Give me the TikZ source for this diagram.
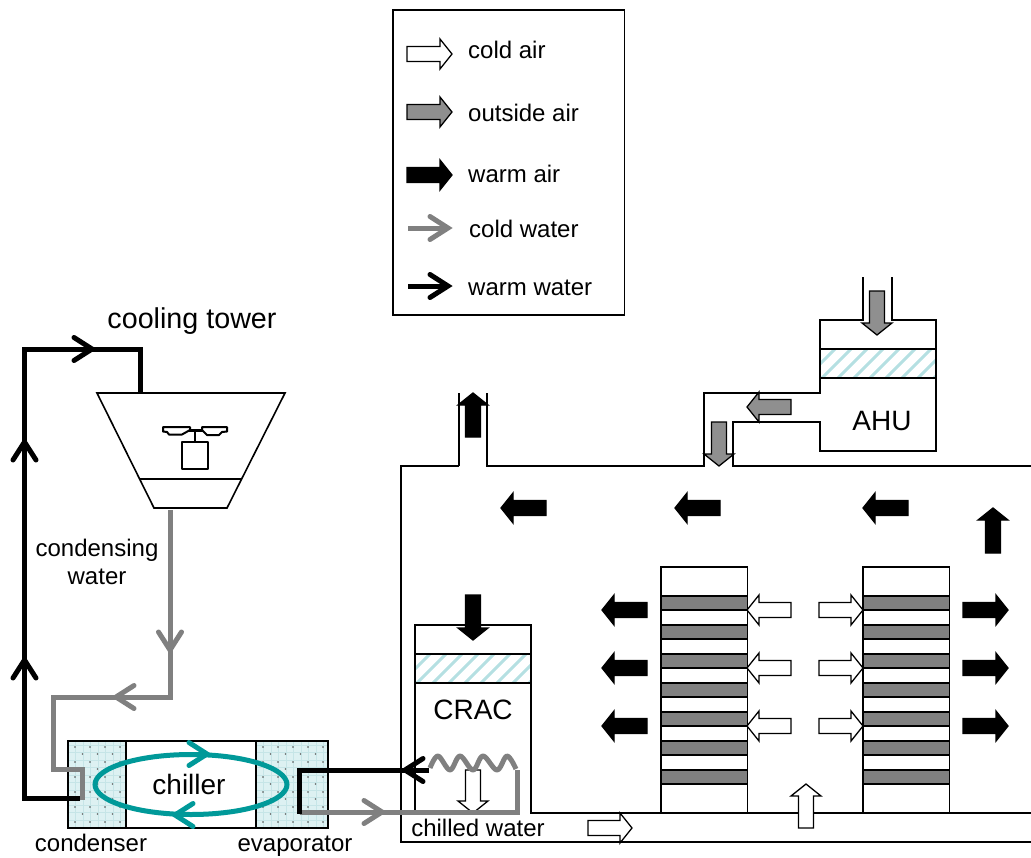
\documentclass[tikz,border=0pt]{standalone}
\usepackage{fontspec}
\setmainfont{Liberation Sans}
\definecolor{pipegray}{HTML}{808080}
\definecolor{outfill}{HTML}{8F8F8F}
\definecolor{tealring}{HTML}{009999}
\definecolor{coilfill}{HTML}{DDF1F2}
\definecolor{coilgrid}{HTML}{C6E5E7}
\definecolor{hatchc}{HTML}{B5E0E2}
\tikzset{
  x=1pt,y=-1pt,
  wall/.style={draw=black,line width=1.6pt,line join=miter},
  box/.style={draw=black,line width=1.7pt},
  coldarr/.style={draw=black,fill=white,line width=1.3pt,line join=miter},
  outarr/.style={draw=black,fill=outfill,line width=1.3pt,line join=miter},
  warmarr/.style={draw=black,fill=black,line width=1.3pt,line join=miter},
  pipeblack/.style={draw=black,line width=5pt,line join=miter,line cap=butt},
  pipegrey/.style={draw=pipegray,line width=5pt,line join=miter,line cap=butt},
  ring/.style={draw=tealring,line width=5pt},
  lab/.style={inner sep=0pt,font=\fontsize{24}{26}\selectfont},
  biglab/.style={inner sep=0pt,font=\fontsize{28}{30}\selectfont},
  fanline/.style={draw=black,line width=2pt,line join=round},
}
% #1 style, #2 tail x, #3 tail y, #4 angle, #5 length
\newcommand\blockarrow[5]{\draw[#1,shift={(#2,#3)},rotate=#4] (0,-7.5)--({#5-12},-7.5)--({#5-12},-15)--(#5,0)--({#5-12},15)--({#5-12},7.5)--(0,7.5)--cycle;}
% #1 colour, #2 tip x, #3 tip y, #4 angle
\newcommand\chev[4]{\draw[draw=#1,line width=5pt,line cap=round,line join=miter,miter limit=4,shift={(#2,#3)},rotate=#4] (-20,-11.5)--(-2,0)--(-20,11.5);}
\newcommand\rackbars[1]{%
  \foreach \yy in {596,625,654,683,712,741,770}{\draw[box,fill=pipegray] (#1,\yy) rectangle ({#1+86.5},\yy+14);}
}
\newcommand\filterband[4]{%
  \begin{scope}
    \clip (#1,#2) rectangle (#3,#4);
    \foreach \xx in {-30,-14,...,150}{\draw[draw=hatchc,line width=3pt] ({#1+\xx},#4)--({#1+\xx+29},#2);}
  \end{scope}
  \draw[box] (#1,#2) rectangle (#3,#4);
}
\newcommand\coil[2]{%
  \fill[coilfill] (#1,741) rectangle (#2,828);
  \begin{scope}
    \clip (#1,741) rectangle (#2,828);
    \foreach \xx in {0,7.5,...,75}{\draw[coilgrid,line width=.35pt] ({#1+\xx},741)--({#1+\xx},828);}
    \foreach \yy in {745,752.5,...,830}{\draw[coilgrid,line width=.35pt] (#1,\yy)--(#2,\yy);}
    \foreach \xx in {7,22,37,52,67}{\foreach \yy in {747,762,777,792,807,822}{\fill[black!70] ({#1+\xx},\yy) circle (.9pt);}}
    \foreach \xx in {14.5,29.5,44.5,59.5}{\foreach \yy in {754,769,784,799,814}{\fill[black!60] ({#1+\xx},\yy) circle (.9pt);}}
  \end{scope}
}
\begin{document}
\begin{tikzpicture}
\useasboundingbox (0,0) rectangle (1031,857);
% legend
\draw[box] (393,10) rectangle (624.5,315);
\blockarrow{coldarr}{407}{54}{0}{45}
\blockarrow{outarr}{407}{112}{0}{45}
\blockarrow{warmarr}{407}{175}{0}{45}
\draw[pipegrey] (408,228)--(447,228);
\chev{pipegray}{450}{228}{0}
\draw[pipeblack] (408,286)--(447,286);
\chev{black}{450}{286}{0}
\node[lab,anchor=west] (lgA) at (468,50) {cold air};
\node[lab,anchor=west] (lgB) at (468,113) {outside air};
\node[lab,anchor=west] (lgC) at (468,174) {warm air};
\node[lab,anchor=west] (lgD) at (469,229) {cold water};
\node[lab,anchor=west] (lgE) at (468,288) {warm water};
% tower
\node[biglab,font=\fontsize{28.7}{30}\selectfont] (towerlab) at (192,321) {cooling tower};
\draw[wall] (97,393)--(285,393)--(227,508)--(154,508)--cycle;
\draw[wall] (140,479)--(242,479);
\draw[fanline] (182,442) rectangle (208,469);
\draw[fanline] (195,430)--(195,442);
\draw[fanline,line width=3pt] (189,430)--(203,430);
\draw[fanline] (163,427)--(190,427)--(190,430)--(182,434.5)--(169,434.5)--(167,432)--(163,431.5)--cycle;
\draw[fanline] (202,427)--(227,427)--(227,431.5)--(222,432)--(219,435)--(207,435)--(202,430)--cycle;
% chiller
\coil{68}{126}
\coil{256}{328}
\draw[box] (68,741) rectangle (328,828);
\draw[box] (126,741)--(126,828);
\draw[box] (256,741)--(256,828);
% room
\draw[wall] (459,466)--(401,466)--(401,842)--(1031,842);
\draw[wall] (459,393)--(459,466);
\draw[wall] (487,393)--(487,466)--(704,466)--(704,393)--(820,393)--(820,320)--(863,320)--(863,277);
\draw[wall] (892,277)--(892,320)--(936,320)--(936,451)--(820,451)--(820,422)--(733,422)--(733,466)--(1031,466);
\filterband{820}{349}{936}{378}
% CRAC
\draw[wall] (415,812)--(415,625)--(531,625)--(531,813)--(1031,813);
\filterband{415}{654}{531}{683}
\node[biglab] (crac) at (473,710) {CRAC};
\node[biglab] (ahu) at (882,421) {AHU};
\node[lab] (chw) at (478,828) {chilled water};
% racks
\draw[wall] (661,567) rectangle (747.5,813);
\draw[wall] (863,567) rectangle (949.5,813);
\rackbars{661}
\rackbars{863}
\draw[draw=black,line width=2.2pt] (747,813)--(762,813);
\draw[draw=black,line width=2.2pt] (950,813)--(965,813);
% air arrows
\blockarrow{warmarr}{473}{437}{90}{44}
\blockarrow{outarr}{877}{291}{270}{44}
\blockarrow{outarr}{791}{407}{180}{44}
\blockarrow{outarr}{719}{422}{270}{44}
\blockarrow{warmarr}{546}{508}{180}{45}
\blockarrow{warmarr}{720}{508}{180}{45}
\blockarrow{warmarr}{908}{508}{180}{45}
\blockarrow{warmarr}{993}{553}{90}{45}
\blockarrow{warmarr}{473}{595}{270}{45}
\foreach \yy in {610,668,726}{
  \blockarrow{warmarr}{647}{\yy}{180}{45}
  \blockarrow{warmarr}{963}{\yy}{0}{45}
  \blockarrow{coldarr}{791}{\yy}{180}{44}
  \blockarrow{coldarr}{819}{\yy}{0}{44}
}
\blockarrow{coldarr}{806}{828}{90}{44}
\blockarrow{coldarr}{588}{828}{0}{44}
\blockarrow{coldarr}{473}{770}{270}{43}
% pipes
\draw[ring] (191,784.5) ellipse (96 and 30);
\chev{tealring}{209}{754}{0}
\chev{tealring}{173}{815}{180}
\node[biglab] (chillerlab) at (189,784) {chiller};
\draw[pipeblack] (80,798)--(24.5,798)--(24.5,349)--(140,349)--(140,393);
\chev{black}{24.5}{658}{90}
\chev{black}{24.5}{440}{90}
\chev{black}{94}{349}{0}
\draw[pipegrey] (170,510)--(170,697)--(53,697)--(53,769)--(82,769)--(82,800);
\chev{pipegray}{170}{652}{270}
\chev{pipegray}{114}{697}{180}
\draw[pipegrey] (301,812)--(517,812)--(517,770);
\chev{pipegray}{384}{812}{0}
\draw[draw=pipegray,line width=5pt,line cap=butt,line join=round]
  plot[smooth,tension=.6] coordinates {(430,768)(438,756)(450,770)(460,756)(473,770)(483,756)(497,770)(507,756)(516,769)};
\draw[pipeblack] (429,770)--(299,770)--(299,814);
\chev{black}{403}{770}{180}
\node[lab] (cond) at (91,843) {condenser};
\node[lab] (evap) at (295,846) {evaporator};
\node[lab] (cw1) at (97,550) {condensing};
\node[lab] (cw2) at (97,577) {water};
\end{tikzpicture}
\end{document}
